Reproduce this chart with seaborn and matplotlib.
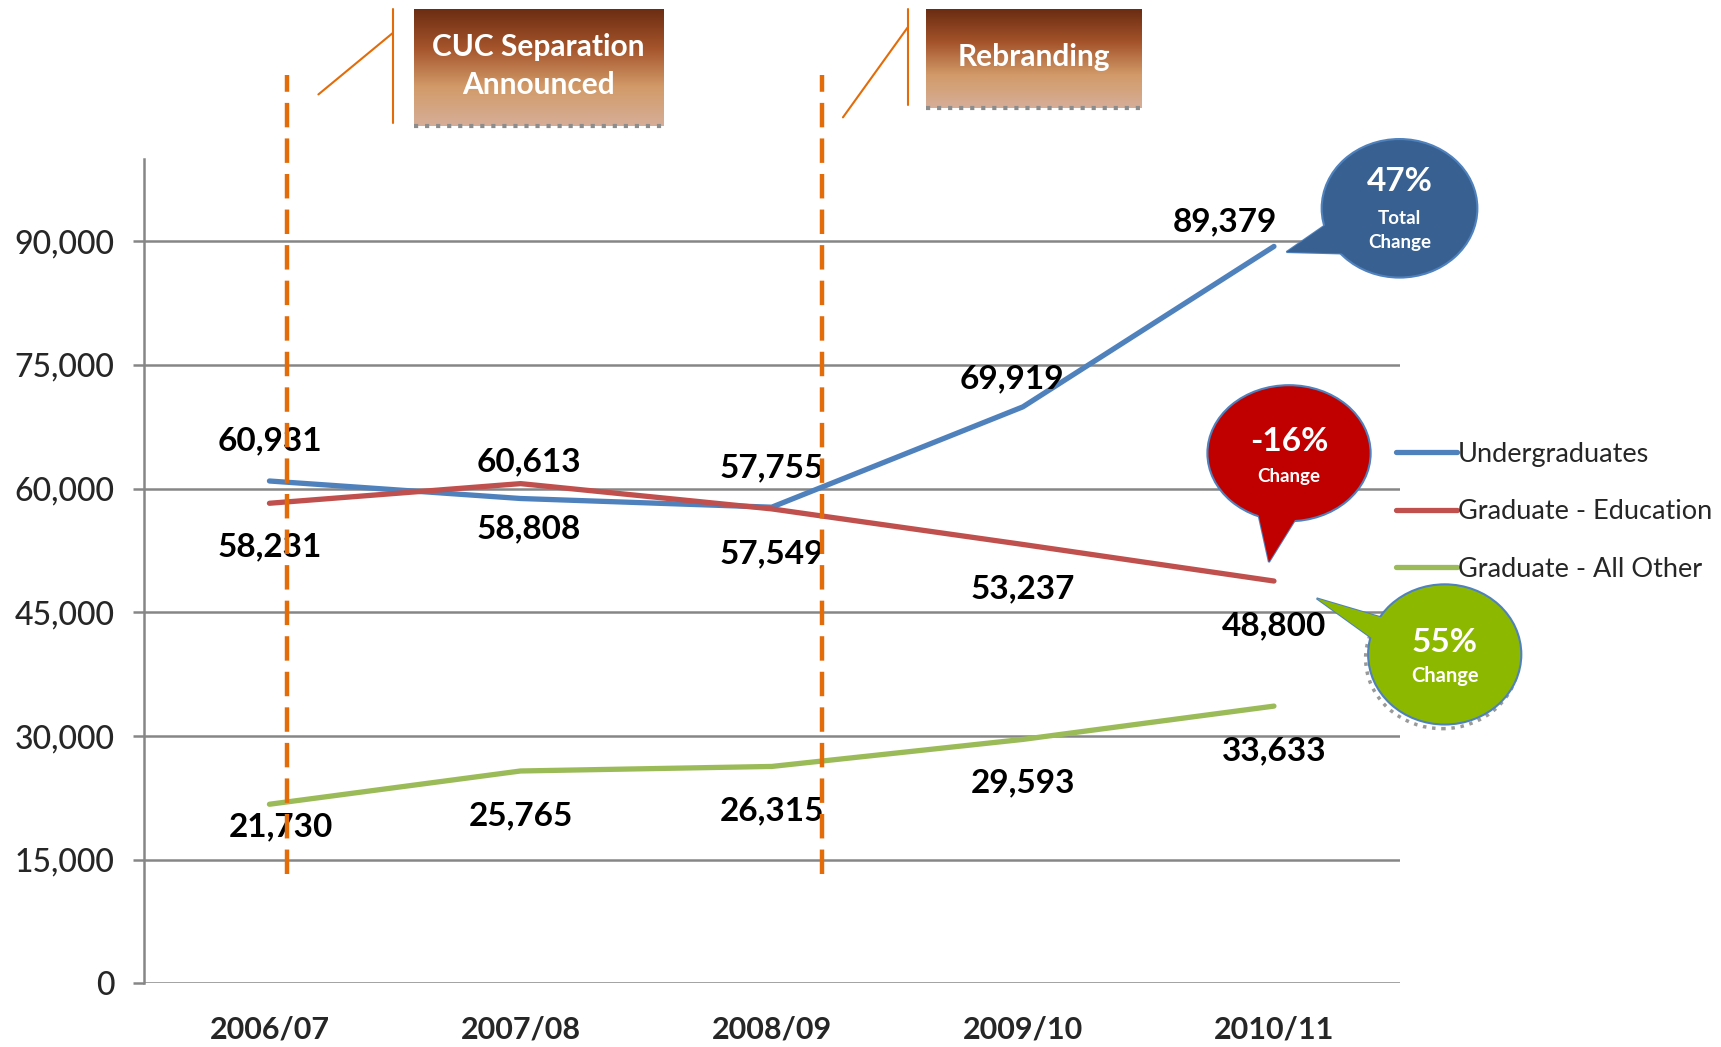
import numpy as np
import pandas as pd
import matplotlib.pyplot as plt
import seaborn as sns
from matplotlib.patches import Ellipse, Polygon
from matplotlib.colors import LinearSegmentedColormap

# data
years = ['2006/07', '2007/08', '2008/09', '2009/10', '2010/11']
undergrad = [60931, 58808, 57755, 69919, 89379]
grad_edu = [58231, 60613, 57549, 53237, 48800]
grad_other = [21730, 25765, 26315, 29593, 33633]
series_names = ['Undergraduates', 'Graduate - Education', 'Graduate - All Other']
y_ticks = [0, 15000, 30000, 45000, 60000, 75000, 90000]
events = ['CUC Separation\nAnnounced', 'Rebranding']

colors = ['#4F81BD', '#C0504D', '#9BBB59']
grid_col = '#868686'
font = 'Lato'

df = pd.DataFrame({
    'pos': np.tile(np.arange(len(years)), 3),
    'value': undergrad + grad_edu + grad_other,
    'series': np.repeat(series_names, len(years)),
})

sns.set_style('white')
plt.rcParams['font.family'] = [font, 'DejaVu Sans']

fig = plt.figure(figsize=(17.21, 10.47), dpi=100)
ax = fig.add_axes([0.0836, 0.0607, 0.7296, 0.7876])

sns.lineplot(data=df, x='pos', y='value', hue='series', hue_order=series_names,
             palette=colors, linewidth=3.8, ax=ax, zorder=3)

ax.set_xlim(-0.5, 4.5)
ax.set_ylim(0, 100000)
ax.set_yticks(y_ticks)
ax.set_yticklabels([f'{v:,}' for v in y_ticks], fontsize=23, fontweight='medium')
ax.set_xticks(range(len(years)))
ax.set_xticklabels(years, fontsize=22, fontweight='bold')
ax.set_xticks([-0.5, 3.5], minor=True)
ax.tick_params(axis='x', which='major', length=0, pad=23)
ax.tick_params(axis='x', which='minor', length=10, width=1.5, color=grid_col, direction='out')
ax.tick_params(axis='y', length=8, width=1.8, color=grid_col, direction='out', pad=13, left=True)
ax.set_xlabel('')
ax.set_ylabel('')
ax.grid(axis='y', color=grid_col, linewidth=1.8)
ax.set_axisbelow(True)
for s in ['top', 'right', 'bottom']:
    ax.spines[s].set_visible(False)
ax.spines['left'].set_color(grid_col)
ax.spines['left'].set_linewidth(1.8)

# data labels (offsets in points)
label_offsets = {
    'Undergraduates': [(0, 29), (6, -22), (0, 28), (-8, 20), (-35, 18)],
    'Graduate - Education': [(0, -31), (6, 16), (0, -32), (0, -32), (0, -32)],
    'Graduate - All Other': [(8, -16), (0, -32), (0, -32), (0, -31), (0, -32)],
}
for name, vals in zip(series_names, [undergrad, grad_edu, grad_other]):
    for i, v in enumerate(vals):
        ax.annotate(f'{v:,}', (i, v), xytext=label_offsets[name][i], textcoords='offset points',
                    ha='center', va='center', fontsize=24, fontweight='bold', color='black', zorder=4)

# event markers
for ex in [0.07, 2.2]:
    ax.plot([ex, ex], [13300, 110200], color='#E36C09', linewidth=3.2,
            linestyle=(0, (5.5, 2.5)), clip_on=False, zorder=5)

box_cmap = LinearSegmentedColormap.from_list('box', ['#6A2C12', '#A4532A', '#D29A68', '#D6AE98'])
boxes = [[0.2404, 0.8795, 0.1448, 0.1121], [0.5383, 0.8972, 0.1250, 0.0944]]
accents = [([0.2283, 0.2283], [0.9916, 0.8826], [0.2283, 0.1850], [0.9686, 0.9098]),
           ([0.5274, 0.5274], [0.9916, 0.8993], [0.5274, 0.4898], [0.9738, 0.8879])]
for label, rect, acc in zip(events, boxes, accents):
    bx = fig.add_axes(rect)
    bx.imshow(np.linspace(0, 1, 256).reshape(-1, 1), cmap=box_cmap, aspect='auto', extent=[0, 1, 0, 1])
    bx.plot([0, 1], [0, 0], color='#8C8C8C', linewidth=3, linestyle=':', clip_on=False)
    bx.text(0.5, 0.51, label, ha='center', va='center', color='white', fontsize=21.5,
            fontweight='bold', linespacing=1.45)
    bx.set_xlim(0, 1)
    bx.set_ylim(0, 1)
    bx.axis('off')
    fig.add_artist(plt.Line2D(acc[0], acc[1], transform=fig.transFigure, color='#E36C09', linewidth=1.5))
    fig.add_artist(plt.Line2D(acc[2], acc[3], transform=fig.transFigure, color='#E36C09', linewidth=1.5))


# speech bubbles with the total change
def bubble(center, w, h, tail, fill):
    ax.add_patch(Polygon(tail, closed=True, facecolor=fill, edgecolor='#4F81BD', lw=1.5,
                         clip_on=False, zorder=6))
    ax.add_patch(Ellipse(center, w, h, facecolor=fill, edgecolor='#4F81BD', lw=1.5,
                         clip_on=False, zorder=7))
    ax.add_patch(Polygon(tail, closed=True, facecolor=fill, edgecolor='none',
                         clip_on=False, zorder=8))


pct = [round((v[-1] / v[0] - 1) * 100) for v in [undergrad, grad_edu, grad_other]]

ax.add_patch(Ellipse((4.670, 39400), 0.61, 17000, facecolor='none', edgecolor='#9A9A9A',
                     lw=2.5, linestyle=':', clip_on=False, zorder=5))
bubble((4.50, 94000), 0.62, 16800, [(4.05, 88700), (4.23, 92500), (4.30, 88500)], '#386192')
bubble((4.06, 64300), 0.65, 16500, [(3.98, 51100), (3.93, 58000), (4.10, 57000)], '#C00000')
bubble((4.68, 39900), 0.61, 17000, [(4.17, 46700), (4.47, 44000), (4.43, 41000)], '#8DB800')

ax.text(4.50, 97300, f'{pct[0]}%', ha='center', va='center', color='white', fontsize=24,
        fontweight='bold', zorder=9)
ax.text(4.50, 91300, 'Total\nChange', ha='center', va='center', color='white', fontsize=13.5,
        fontweight='bold', linespacing=1.5, zorder=9)
ax.text(4.06, 65700, f'{pct[1]}%', ha='center', va='center', color='white', fontsize=24,
        fontweight='bold', zorder=9)
ax.text(4.06, 61500, 'Change', ha='center', va='center', color='white', fontsize=13.5,
        fontweight='bold', zorder=9)
ax.text(4.68, 41400, f'{pct[2]}%', ha='center', va='center', color='white', fontsize=24,
        fontweight='bold', zorder=9)
ax.text(4.68, 37300, 'Change', ha='center', va='center', color='white', fontsize=14.5,
        fontweight='bold', zorder=9)

handles, labels = ax.get_legend_handles_labels()
leg = ax.legend(handles, labels, loc='upper left', bbox_to_anchor=(0.811, 0.578),
                bbox_transform=fig.transFigure, frameon=False, fontsize=19.5,
                handlelength=2.25, handletextpad=0.05, labelspacing=1.2,
                borderpad=0, borderaxespad=0)
for h in leg.legend_handles:
    h.set_linewidth(3.8)

plt.savefig('out.png', dpi=100)
